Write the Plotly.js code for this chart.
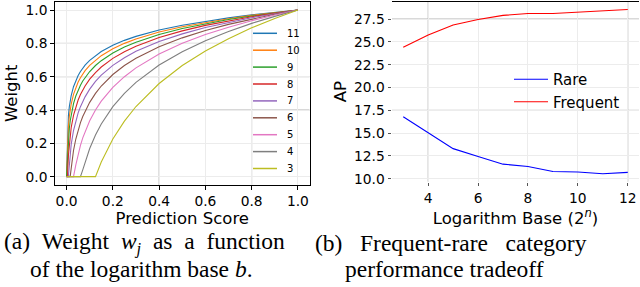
<!DOCTYPE html>
<html>
<head>
<meta charset="utf-8">
<script src="https://cdn.plot.ly/plotly-3.0.1.min.js"></script>
<style>html,body{margin:0;padding:0;background:#fff;}#chart{width:640px;height:287px;}</style>
</head>
<body>
<div id="chart"></div>
<script>
// ---- Left panel: weight vs prediction score, one curve per base exponent ----
var scoreX = [0, 0.004, 0.008, 0.012, 0.016, 0.02, 0.03, 0.04, 0.05, 0.06, 0.07, 0.08, 0.1, 0.125, 0.15, 0.2, 0.25, 0.3, 0.4, 0.5, 0.6, 0.7, 0.8, 0.9, 1.0];
var baseLabels = ["11", "10", "9", "8", "7", "6", "5", "4", "3"];
var w11 = [0, 0.276, 0.367, 0.420, 0.458, 0.487, 0.540, 0.578, 0.607, 0.631, 0.651, 0.669, 0.698, 0.727, 0.751, 0.789, 0.818, 0.842, 0.880, 0.909, 0.933, 0.953, 0.971, 0.986, 1.0];
var w10 = [0, 0.203, 0.303, 0.362, 0.403, 0.436, 0.494, 0.536, 0.568, 0.594, 0.616, 0.636, 0.668, 0.700, 0.726, 0.768, 0.800, 0.826, 0.868, 0.900, 0.926, 0.948, 0.968, 0.985, 1.0];
var w9  = [0, 0.115, 0.226, 0.291, 0.337, 0.373, 0.438, 0.484, 0.520, 0.549, 0.574, 0.595, 0.631, 0.667, 0.696, 0.742, 0.778, 0.807, 0.853, 0.889, 0.918, 0.943, 0.964, 0.983, 1.0];
var w8  = [0, 0.004, 0.129, 0.202, 0.254, 0.295, 0.368, 0.419, 0.460, 0.493, 0.520, 0.544, 0.585, 0.625, 0.658, 0.710, 0.750, 0.783, 0.835, 0.875, 0.908, 0.936, 0.960, 0.981, 1.0];
var w7  = [0, 0, 0.005, 0.088, 0.148, 0.194, 0.277, 0.337, 0.383, 0.420, 0.452, 0.479, 0.525, 0.572, 0.609, 0.668, 0.714, 0.752, 0.811, 0.857, 0.895, 0.926, 0.954, 0.978, 1.0];
var w6  = [0, 0, 0, 0, 0.006, 0.059, 0.157, 0.226, 0.280, 0.324, 0.361, 0.393, 0.446, 0.500, 0.544, 0.613, 0.667, 0.711, 0.780, 0.833, 0.877, 0.914, 0.946, 0.975, 1.0];
var w5  = [0, 0, 0, 0, 0, 0, 0, 0.071, 0.136, 0.188, 0.233, 0.271, 0.336, 0.400, 0.453, 0.536, 0.600, 0.653, 0.736, 0.800, 0.853, 0.897, 0.936, 0.970, 1.0];
var w4  = [0, 0, 0, 0, 0, 0, 0, 0, 0, 0, 0.041, 0.089, 0.169, 0.250, 0.316, 0.420, 0.500, 0.566, 0.670, 0.750, 0.816, 0.871, 0.920, 0.962, 1.0];
var w3  = [0, 0, 0, 0, 0, 0, 0, 0, 0, 0, 0, 0, 0, 0, 0.088, 0.226, 0.333, 0.421, 0.559, 0.667, 0.754, 0.828, 0.893, 0.949, 1.0];
var weightSeries = [w11, w10, w9, w8, w7, w6, w5, w4, w3];
var curveColors = ["#1f77b4", "#ff7f0e", "#2ca02c", "#d62728", "#9467bd", "#8c564b", "#e377c2", "#7f7f7f", "#bcbd22"];
var leftXTicks = [0, 0.2, 0.4, 0.6, 0.8, 1.0];
var leftXTickText = ["0.0", "0.2", "0.4", "0.6", "0.8", "1.0"];
var leftYTicks = [0, 0.2, 0.4, 0.6, 0.8, 1.0];
var leftYTickText = ["0.0", "0.2", "0.4", "0.6", "0.8", "1.0"];

// ---- Right panel: AP vs logarithm base exponent ----
var logBase = [3, 4, 5, 6, 7, 8, 9, 10, 11, 12];
var rareAP = [16.8, 15.05, 13.3, 12.45, 11.6, 11.35, 10.8, 10.75, 10.55, 10.7];
var frequentAP = [24.4, 25.75, 26.85, 27.45, 27.9, 28.1, 28.1, 28.25, 28.35, 28.55];
var rightXTicks = [4, 6, 8, 10, 12];
var rightYTicks = [10, 12.5, 15, 17.5, 20, 22.5, 25, 27.5];
var rightYTickText = ["10.0", "12.5", "15.0", "17.5", "20.0", "22.5", "25.0", "27.5"];

var FONT = "DejaVu Sans, sans-serif";
var SERIF = "Liberation Serif, Times New Roman, serif";
var faintGrid = "#ececec";
var darkGrid = "#b0b0b0";
var W = 640, H = 287;

var traces = [];
for (var i = 0; i < weightSeries.length; i++) {
  traces.push({
    x: scoreX, y: weightSeries[i], type: "scatter", mode: "lines",
    name: baseLabels[i], xaxis: "x", yaxis: "y", showlegend: false,
    line: {color: curveColors[i], width: 1.1}
  });
}
traces.push({x: logBase, y: rareAP, type: "scatter", mode: "lines", name: "Rare",
  xaxis: "x2", yaxis: "y2", legend: "legend2", line: {color: "#0000ff", width: 1.1}});
traces.push({x: logBase, y: frequentAP, type: "scatter", mode: "lines", name: "Frequent",
  xaxis: "x2", yaxis: "y2", legend: "legend2", line: {color: "#ff0000", width: 1.1}});

// emphasised grid lines (as they appear in the reference)
var leftDarkX = [0.4, 0.8];
var leftDarkY = [0.4, 0.6, 0.8];
var rightDarkX = [4, 12];
var rightDarkY = [17.5, 27.5];
var shapes = [];
leftDarkX.forEach(function (v) {
  shapes.push({type: "line", xref: "x", yref: "y domain", x0: v, x1: v, y0: 0, y1: 1, layer: "below", line: {color: darkGrid, width: 1}});
});
leftDarkY.forEach(function (v) {
  shapes.push({type: "line", xref: "x domain", yref: "y", x0: 0, x1: 1, y0: v, y1: v, layer: "below", line: {color: darkGrid, width: 1}});
});
rightDarkX.forEach(function (v) {
  shapes.push({type: "line", xref: "x2", yref: "y2 domain", x0: v, x1: v, y0: 0, y1: 1, layer: "below", line: {color: darkGrid, width: 1}});
});
rightDarkY.forEach(function (v) {
  shapes.push({type: "line", xref: "x2 domain", yref: "y2", x0: 0, x1: 1, y0: v, y1: v, layer: "below", line: {color: darkGrid, width: 1}});
});
// top spine of right panel
shapes.push({type: "line", xref: "x2 domain", yref: "y2 domain", x0: 0, x1: 1, y0: 1, y1: 1, line: {color: "#000", width: 1}});

// left legend, matplotlib-style compact layout (inside the axes, no frame)
var legTop = 33.3, legStep = 16.9, legLineX0 = 253, legLineX1 = 277, legTextX = 285;
var annotations = [];
for (var k = 0; k < baseLabels.length; k++) {
  var yy = 1 - (legTop + k * legStep) / H;
  shapes.push({type: "line", xref: "paper", yref: "paper", x0: legLineX0 / W, x1: legLineX1 / W, y0: yy, y1: yy,
    line: {color: curveColors[k], width: 1.5}});
  annotations.push({text: baseLabels[k], xref: "paper", yref: "paper", x: legTextX / W, y: yy,
    xanchor: "left", yanchor: "middle", showarrow: false, font: {family: FONT, size: 10, color: "#000"}});
}

// captions: first lines are justified (slightly wider word gaps), second lines hang-indented
var NB = "\u00a0";
var capFont = {family: SERIF, size: 23.5, color: "#000"};
var capA1 = ["(a)", "Weight", "<i>w<sub>j</sub></i>", "as", "a", "function"].join(" " + NB);
var capA2 = "of the logarithm base <i>b</i>.";
var capB1 = ["(b)", "Frequent-rare", "category"].join(" " + NB + NB);
var capB2 = "performance tradeoff";
annotations.push(
  {text: capA1, xref: "paper", yref: "paper", x: 2 / W, y: 1 - 243 / H, xanchor: "left", yanchor: "middle", showarrow: false, font: capFont},
  {text: capA2, xref: "paper", yref: "paper", x: 28 / W, y: 1 - 269 / H, xanchor: "left", yanchor: "middle", showarrow: false, font: capFont},
  {text: capB1, xref: "paper", yref: "paper", x: 313 / W, y: 1 - 243 / H, xanchor: "left", yanchor: "middle", showarrow: false, font: capFont},
  {text: capB2, xref: "paper", yref: "paper", x: 343 / W, y: 1 - 269 / H, xanchor: "left", yanchor: "middle", showarrow: false, font: capFont}
);

var axisCommon = {
  ticks: "outside", ticklen: 3.5, tickwidth: 1, tickcolor: "#000",
  gridcolor: faintGrid, gridwidth: 1, zeroline: false,
  tickfont: {family: FONT, size: 13.8, color: "#000"}
};
var titleFont = {family: FONT, size: 16.5, color: "#000"};

var layout = {
  width: W, height: H,
  margin: {l: 0, r: 0, t: 0, b: 0},
  paper_bgcolor: "#fff", plot_bgcolor: "#fff",
  showlegend: true,
  xaxis: Object.assign({}, axisCommon, {
    domain: [55 / W, 309.5 / W], range: [-0.05, 1.05], anchor: "y",
    tickvals: leftXTicks, ticktext: leftXTickText,
    showline: true, mirror: true, linecolor: "#000", linewidth: 1.2,
    title: {text: "Prediction Score", font: titleFont, standoff: 0}
  }),
  yaxis: Object.assign({}, axisCommon, {
    domain: [1 - 185 / H, 1 - 1.7 / H], range: [-0.05, 1.05], anchor: "x",
    tickvals: leftYTicks, ticktext: leftYTickText,
    showline: true, mirror: true, linecolor: "#000", linewidth: 1.2,
    title: {text: "Weight", font: titleFont, standoff: 3}
  }),
  xaxis2: Object.assign({}, axisCommon, {
    domain: [392 / W, 639 / W], range: [2.55, 12.45], anchor: "y2",
    tickvals: rightXTicks, tickcolor: "#555", showline: false,
    title: {text: "Logarithm Base (2<sup><i>n</i></sup>)", font: titleFont, standoff: 0}
  }),
  yaxis2: Object.assign({}, axisCommon, {
    domain: [1 - 181.7 / H, 1 - 1.5 / H], range: [9.68, 29.42], anchor: "x2",
    tickvals: rightYTicks, ticktext: rightYTickText, tickcolor: "#555", showline: false,
    title: {text: "AP", font: titleFont, standoff: 3}
  }),
  legend2: {
    x: 509 / W, y: 1 - 63 / H, xanchor: "left", yanchor: "top",
    bgcolor: "rgba(0,0,0,0)", borderwidth: 0,
    font: {family: FONT, size: 15, color: "#000"},
    itemwidth: 34
  },
  shapes: shapes,
  annotations: annotations
};

Plotly.newPlot("chart", traces, layout, {displayModeBar: false, staticPlot: true});
</script>
</body>
</html>
